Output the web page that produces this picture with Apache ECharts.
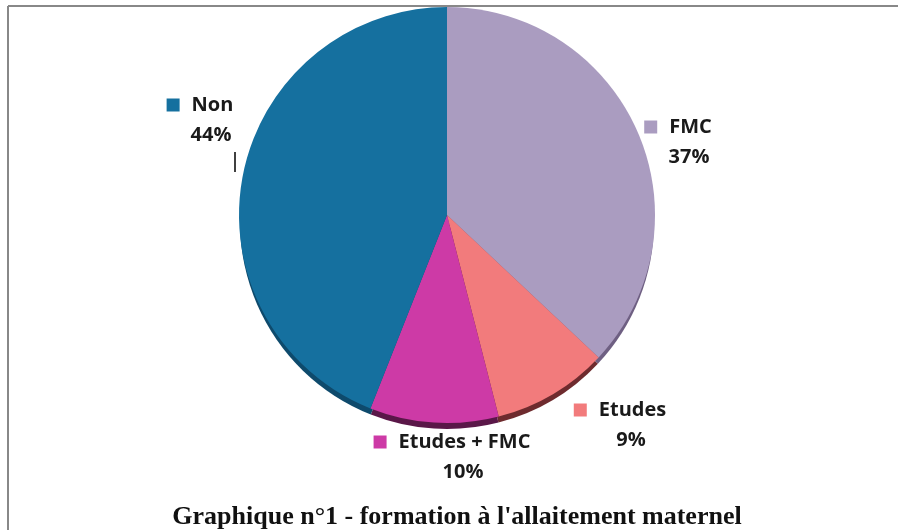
<!DOCTYPE html>
<html>
<head>
<meta charset="utf-8">
<script src="https://cdn.jsdelivr.net/npm/echarts@6/dist/echarts.min.js"></script>
<style>
  html, body { margin: 0; padding: 0; background: #fff; }
  #chart { width: 898px; height: 530px; }
</style>
</head>
<body>
<div id="chart"></div>
<script>
// données du graphique
var categories = ['FMC', 'Etudes', 'Etudes + FMC', 'Non'];
var values = [37, 9, 10, 44];
var colors = ['#AA9CC0', '#F27B7C', '#CD3AA6', '#15709F'];
var rimColors = ['#6E5F82', '#6E2B2E', '#5A1748', '#0E4A6C']; // bord 3D
var titleText = "Graphique n°1 - formation à l'allaitement maternel";

// position des étiquettes (centre du bloc)
var labelPos = [[678, 142], [620, 425], [452, 457], [200, 120]];

var chart = echarts.init(document.getElementById('chart'), null, { renderer: 'canvas' });

var pieData = categories.map(function (name, i) {
  return {
    name: name,
    value: values[i],
    itemStyle: { color: colors[i] },
    labelLine: { show: name === 'Non', length: 6, length2: 0 }
  };
});

var rimData = categories.map(function (name, i) {
  return { name: name, value: values[i], itemStyle: { color: rimColors[i] } };
});

var option = {
  animation: false,
  backgroundColor: '#fff',
  title: {
    text: titleText,
    left: 452,
    top: 499,
    textAlign: 'center',
    textStyle: {
      fontFamily: 'Liberation Serif',
      fontWeight: 'bold',
      fontSize: 26,
      color: '#111'
    }
  },
  graphic: [
    { type: 'line', shape: { x1: 8, y1: 6, x2: 898, y2: 6 }, style: { stroke: '#888', lineWidth: 2 } },
    { type: 'line', shape: { x1: 8, y1: 6, x2: 8, y2: 530 }, style: { stroke: '#888', lineWidth: 2 } }
  ],
  series: [{
    // bord inférieur (effet 3D)
    type: 'pie',
    center: [447, 222],
    radius: ['0', 207],
    startAngle: 90,
    silent: true,
    label: { show: false },
    labelLine: { show: false },
    z: 1,
    data: rimData
  }, {
    type: 'pie',
    center: [447, 215],
    radius: ['0', 208],
    startAngle: 90,
    clockwise: true,
    avoidLabelOverlap: false,
    z: 2,
    label: {
      show: true,
      formatter: function (p) {
        return '{sq|}{name|' + p.name + '}\n{pct|' + p.percent.toFixed(0) + '%}';
      },
      rich: {
        sq: { width: 13, height: 13, backgroundColor: 'inherit' },
        name: { fontFamily: 'Open Sans', fontWeight: 'bold', fontSize: 20, color: '#1a1a1a', lineHeight: 30, padding: [0, 0, 0, 12] },
        pct: { fontFamily: 'Open Sans', fontWeight: 'bold', fontSize: 20, color: '#1a1a1a', lineHeight: 30, padding: [0, 0, 0, 22] }
      },
      align: 'center'
    },
    labelLine: { lineStyle: { color: '#000', width: 1.5 } },
    labelLayout: function (params) {
      var pos = labelPos[params.dataIndex];
      var res = { x: pos[0], y: pos[1], align: 'center', verticalAlign: 'middle' };
      if (params.dataIndex === 3) {
        res.labelLinePoints = [[pos[0] + 35, pos[1] + 52], [pos[0] + 35, pos[1] + 42], [pos[0] + 35, pos[1] + 32]];
      }
      return res;
    },
    data: pieData
  }]
};

chart.setOption(option);
</script>
</body>
</html>
